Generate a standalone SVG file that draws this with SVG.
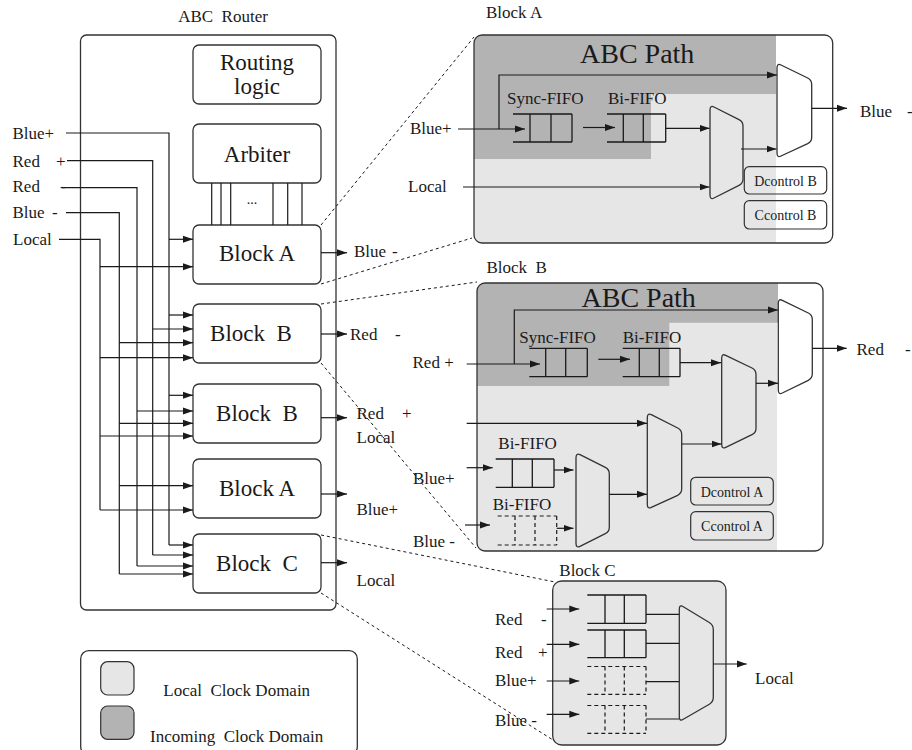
<svg xmlns="http://www.w3.org/2000/svg" width="912" height="750" viewBox="0 0 912 750" font-family="'Liberation Serif', Tinos, 'DejaVu Serif', serif">
  <defs>
    <marker id="ah" markerUnits="userSpaceOnUse" markerWidth="10" markerHeight="8" refX="10" refY="4" orient="auto">
      <path d="M0,0.5 L10,4 L0,7.5 Z" fill="#1a1a1a"/>
    </marker>
    <clipPath id="clipA"><rect x="474" y="35" width="358.7" height="208" rx="8"/></clipPath>
    <clipPath id="clipB"><rect x="477" y="283" width="346" height="268" rx="8"/></clipPath>
    <style>
      text { font-family: 'Liberation Serif', Tinos, 'DejaVu Serif', serif; fill: #1a1a1a; }
      .big { font-size: 23px; }
      .lbl { font-size: 17px; }
      .sm { font-size: 14px; }
      .path { font-size: 28px; }
      .box { fill: #ffffff; stroke: #333333; stroke-width: 1.3; }
      .frame { fill: none; stroke: #333333; stroke-width: 1.3; }
      .ln { fill: none; stroke: #1a1a1a; stroke-width: 1.2; }
      .arr { fill: none; stroke: #1a1a1a; stroke-width: 1.2; marker-end: url(#ah); }
      .fifo { fill: none; stroke: #1a1a1a; stroke-width: 1.3; }
      .dfifo { fill: none; stroke: #1a1a1a; stroke-width: 1.2; stroke-dasharray: 4 3; }
      .zoomln { fill: none; stroke: #1a1a1a; stroke-width: 1; stroke-dasharray: 3 3; }
      .light { fill: #e6e6e6; }
      .dark { fill: #b3b3b3; }
      .muxL { fill: #e6e6e6; stroke: #333333; stroke-width: 1.3; }
      .muxW { fill: #ffffff; stroke: #333333; stroke-width: 1.3; }
      .ctl { fill: none; stroke: #333333; stroke-width: 1.2; }
    </style>
  </defs>

  <!-- ===== Router ===== -->
  <g id="router">
    <text class="lbl" x="223" y="21.5" text-anchor="middle" xml:space="preserve">ABC  Router</text>
    <rect class="box" x="80.5" y="35" width="255.5" height="575" rx="6"/>
  </g>

  <g id="routing-logic">
    <rect class="box" x="193" y="45" width="128" height="59" rx="6"/>
    <text class="big" x="257" y="70" text-anchor="middle">Routing</text>
    <text class="big" x="257" y="93.5" text-anchor="middle">logic</text>
  </g>

  <g id="arbiter">
    <rect class="box" x="193" y="124" width="128" height="59" rx="6"/>
    <text class="big" x="257" y="161.5" text-anchor="middle">Arbiter</text>
  </g>

  <g id="router-block-a1">
    <rect class="box" x="193" y="225" width="128" height="59" rx="6"/>
    <text class="big" x="257" y="261" text-anchor="middle">Block A</text>
  </g>
  <g id="router-block-b1">
    <rect class="box" x="193" y="304" width="128" height="59" rx="6"/>
    <text class="big" x="251" y="341" text-anchor="middle" xml:space="preserve">Block  B</text>
  </g>
  <g id="router-block-b2">
    <rect class="box" x="193" y="384" width="128" height="59" rx="6"/>
    <text class="big" x="257" y="421" text-anchor="middle" xml:space="preserve">Block  B</text>
  </g>
  <g id="router-block-a2">
    <rect class="box" x="193" y="459" width="128" height="59" rx="6"/>
    <text class="big" x="257" y="496" text-anchor="middle">Block A</text>
  </g>
  <g id="router-block-c">
    <rect class="box" x="193" y="534" width="128" height="59" rx="6"/>
    <text class="big" x="257" y="571" text-anchor="middle" xml:space="preserve">Block  C</text>
  </g>

  <!-- router input port labels -->
  <g id="router-inputs">
    <text class="lbl" x="12.5" y="139">Blue+</text>
    <text class="lbl" x="12.5" y="166.5">Red <tspan x="56">+</tspan></text>
    <text class="lbl" x="12.5" y="192">Red <tspan x="60">-</tspan></text>
    <text class="lbl" x="12.5" y="218">Blue <tspan x="52">-</tspan></text>
    <text class="lbl" x="13" y="245">Local</text>
  </g>

  <!-- router output port labels -->
  <g id="router-outputs">
    <text class="lbl" x="354" y="257">Blue <tspan x="392">-</tspan></text>
    <text class="lbl" x="350" y="340">Red <tspan x="395">-</tspan></text>
    <text class="lbl" x="356.5" y="419">Red <tspan x="402">+</tspan></text>
    <text class="lbl" x="356.5" y="443">Local</text>
    <text class="lbl" x="356.5" y="514.5">Blue+</text>
    <text class="lbl" x="356.5" y="586">Local</text>
  </g>

  <!-- ===== Block A detail ===== -->
  <g id="block-a-detail">
    <text class="lbl" x="486" y="18">Block A</text>
    <g clip-path="url(#clipA)">
      <rect class="light" x="474" y="35" width="302" height="208"/>
      <polygon class="dark" points="474,35 776,35 776,94 651,94 651,159 474,159"/>
    </g>
    <rect class="frame" x="474" y="35" width="358.7" height="208" rx="8"/>
    <text class="path" x="580" y="63">ABC Path</text>
    <text class="lbl" x="410" y="134">Blue+</text>
    <text class="lbl" x="408" y="191.5">Local</text>
    <text class="lbl" x="507" y="103.5">Sync-FIFO</text>
    <text class="lbl" x="608" y="103.5">Bi-FIFO</text>
    <!-- sync fifo -->
    <path class="fifo" d="M513,114 H572 M513,142 H572 M530,114 V142 M551,114 V142 M572,114 V142"/>
    <!-- bi fifo -->
    <path class="fifo" d="M607,114 H665.7 M607,142 H665.7 M623.3,114 V142 M643.3,114 V142 M665.7,114 V142"/>
    <path class="muxL" d="M710,110 Q710,105 714,107 L739,119.7 Q743,121.7 743,126 L743,179 Q743,183.3 739,185.3 L714,198 Q710,200 710,195 Z"/>
    <path class="muxW" d="M777,68 Q777,63 781,65 L807.7,78 Q811.7,80 811.7,84.5 L811.7,137.2 Q811.7,141.7 807.7,143.7 L781,156 Q777,158 777,153 Z"/>
    <path class="arr" d="M458,129 H525"/>
    <path class="arr" d="M499,129 V75 H777"/>
    <path class="arr" d="M583,127.5 H615"/>
    <path class="arr" d="M665.7,128.3 H709.5"/>
    <path class="arr" d="M463,187 H709.5"/>
    <path class="arr" d="M741,149 H776.5"/>
    <path class="arr" d="M812,108.3 H847"/>
    <text class="lbl" x="860" y="116.5">Blue <tspan x="907">-</tspan></text>
    <rect class="ctl" x="744.3" y="166.7" width="82.4" height="27.3" rx="5"/>
    <text class="sm" x="785.5" y="186" text-anchor="middle">Dcontrol B</text>
    <rect class="ctl" x="744.3" y="200.7" width="82.4" height="28.3" rx="5"/>
    <text class="sm" x="785.5" y="220" text-anchor="middle">Ccontrol B</text>
  </g>

  <!-- ===== Block B detail ===== -->
  <g id="block-b-detail">
    <text class="lbl" x="486.5" y="272.5" xml:space="preserve">Block  B</text>
    <g clip-path="url(#clipB)">
      <rect class="light" x="477" y="283" width="300" height="268"/>
      <polygon class="dark" points="477,283 778,283 778,322.7 669.3,322.7 669.3,386 477,386"/>
    </g>
    <rect class="frame" x="477" y="283" width="346" height="268" rx="8"/>
    <text class="path" x="581.5" y="306.5">ABC Path</text>
    <text class="lbl" x="412.5" y="367.5">Red +</text>
    <text class="lbl" x="413" y="484">Blue+</text>
    <text class="lbl" x="413" y="547">Blue -</text>
    <text class="lbl" x="519.3" y="342.7">Sync-FIFO</text>
    <text class="lbl" x="622.7" y="342.7">Bi-FIFO</text>
    <text class="lbl" x="498.3" y="449">Bi-FIFO</text>
    <text class="lbl" x="492.7" y="510">Bi-FIFO</text>
    <path class="fifo" d="M529.3,348.3 H587.3 M529.3,376.7 H587.3 M545.7,348.3 V376.7 M565.7,348.3 V376.7 M587.3,348.3 V376.7"/>
    <path class="fifo" d="M622.7,348.3 H680 M622.7,376.7 H680 M639.3,348.3 V376.7 M659.3,348.3 V376.7 M680,348.3 V376.7"/>
    <path class="fifo" d="M495.7,459 H554 M495.7,487.3 H554 M512.3,459 V487.3 M532.3,459 V487.3 M554,459 V487.3"/>
    <path class="dfifo" d="M497.7,516 H556.7 M497.7,545 H556.7 M515,516 V545 M535,516 V545 M556.7,516 V545"/>
    <path class="muxL" d="M721.7,358.3 Q721.7,353.3 725.7,355.3 L752,368 Q756,370 756,374.5 L756,428.2 Q756,432.7 752,434.7 L725.7,447.3 Q721.7,449.3 721.7,444.3 Z"/>
    <path class="muxW" d="M778.3,303.3 Q778.3,298.3 782.3,300.3 L808.3,313 Q812.3,315 812.3,319.5 L812.3,373.8 Q812.3,378.3 808.3,380.3 L782.3,393 Q778.3,395 778.3,390 Z"/>
    <path class="muxL" d="M647.3,417.7 Q647.3,412.7 651.3,414.7 L677.7,428 Q681.7,430 681.7,434.5 L681.7,488.8 Q681.7,493.3 677.7,495.3 L651.3,507.3 Q647.3,509.3 647.3,504.3 Z"/>
    <path class="muxL" d="M576,457.7 Q576,452.7 580,454.7 L605.3,467.3 Q609.3,469.3 609.3,473.8 L609.3,527.2 Q609.3,531.7 605.3,533.7 L580,546.3 Q576,548.3 576,543.3 Z"/>
    <path class="arr" d="M466.7,364 H540"/>
    <path class="arr" d="M514.3,364 V310 H778"/>
    <path class="arr" d="M598.3,359.3 H630"/>
    <path class="arr" d="M680,362.7 H721"/>
    <path class="arr" d="M756,383.3 H778"/>
    <path class="arr" d="M812.3,348.3 H846.7"/>
    <path class="arr" d="M466.7,423.3 H647"/>
    <path class="arr" d="M681.7,444 H721.5"/>
    <path class="arr" d="M609.3,494.3 H647"/>
    <path class="arr" d="M466.7,467.7 H492.7"/>
    <path class="arr" d="M554,470 H573.5"/>
    <path class="arr" d="M465,525 H490"/>
    <path class="arr" d="M556.7,528.3 H573.5"/>
    <text class="lbl" x="856.5" y="355">Red <tspan x="905">-</tspan></text>
    <rect class="ctl" x="690.7" y="477.3" width="82.6" height="27.7" rx="5"/>
    <text class="sm" x="732" y="496.5" text-anchor="middle">Dcontrol A</text>
    <rect class="ctl" x="690.7" y="511.7" width="82.6" height="28.3" rx="5"/>
    <text class="sm" x="732" y="531" text-anchor="middle">Ccontrol A</text>
  </g>

  <!-- ===== Block C detail ===== -->
  <g id="block-c-detail">
    <text class="lbl" x="559.3" y="575.5">Block C</text>
    <rect x="552.7" y="581" width="173.3" height="164" rx="9" fill="#e6e6e6" stroke="#333333" stroke-width="1.3"/>
    <path class="fifo" d="M587.3,595 H646 M587.3,623.3 H646 M605,595 V623.3 M624.3,595 V623.3 M646,595 V623.3"/>
    <path class="fifo" d="M587.3,630 H646 M587.3,657.7 H646 M605,630 V657.7 M624.3,630 V657.7 M646,630 V657.7"/>
    <path class="dfifo" d="M587.3,666.5 H646 M587.3,694.3 H646 M605,666.5 V694.3 M624.3,666.5 V694.3 M646,666.5 V694.3"/>
    <path class="dfifo" d="M587.3,705.5 H646 M587.3,733.3 H646 M605,705.5 V733.3 M624.3,705.5 V733.3 M646,705.5 V733.3"/>
    <path class="ln" d="M646,614.3 H679.3 M646,643.3 H679.3 M646,681.7 H679.3 M646,719 H679.3"/>
    <path class="muxL" d="M679.3,609.3 Q679.3,604.3 683.3,606.8 L709.3,622.5 Q713.3,625 713.3,629.5 L713.3,697.2 Q713.3,701.7 709.3,704.2 L683.3,719.2 Q679.3,721.7 679.3,716.7 Z"/>
    <path class="arr" d="M546.7,609 H579.3"/>
    <path class="arr" d="M546.7,644.3 H579.3"/>
    <path class="arr" d="M546.7,681 H579.3"/>
    <path class="arr" d="M546.7,714.3 H579.3"/>
    <path class="arr" d="M713.3,664 H746.7"/>
    <text class="lbl" x="495" y="625">Red <tspan x="541">-</tspan></text>
    <text class="lbl" x="495" y="658">Red <tspan x="538">+</tspan></text>
    <text class="lbl" x="495" y="685.5">Blue+</text>
    <text class="lbl" x="495" y="726">Blue -</text>
    <text class="lbl" x="755" y="684">Local</text>
  </g>

  <!-- ===== Legend ===== -->
  <g id="legend">
    <rect class="box" x="80.7" y="650.7" width="276.6" height="104" rx="8"/>
    <rect class="light" x="100.7" y="661.7" width="33.3" height="33.3" rx="7" stroke="#333333" stroke-width="1.2"/>
    <rect class="dark" x="100.7" y="706" width="33.3" height="33.3" rx="7" stroke="#333333" stroke-width="1.2"/>
    <text class="lbl" x="163.3" y="696" xml:space="preserve">Local  Clock Domain</text>
    <text class="lbl" x="150" y="741.5" xml:space="preserve">Incoming  Clock Domain</text>
  </g>

  <!-- ===== Connectors ===== -->
  <g id="connectors">
    <!-- arbiter to Block A control lines -->
    <path class="ln" d="M211.7,183 V225 M221,183 V225 M230.7,183 V225 M273,183 V225 M287.7,183 V225 M302,183 V225"/>
    <text class="sm" x="252" y="204" text-anchor="middle">...</text>

    <!-- input port buses -->
    <path class="ln" d="M66,133 H169 V545"/>
    <path class="ln" d="M67,160.7 H152.7 V555"/>
    <path class="ln" d="M62,187.7 H137 V566"/>
    <path class="ln" d="M66,212.7 H119.3 V574"/>
    <path class="ln" d="M59,239.3 H100 V510"/>

    <!-- taps into router blocks -->
    <path class="arr" d="M169,239.3 H193"/>
    <path class="arr" d="M100,266.7 H193"/>

    <path class="arr" d="M169,315 H193"/>
    <path class="arr" d="M152.7,329 H193"/>
    <path class="arr" d="M119.3,342.7 H193"/>
    <path class="arr" d="M100,357.7 H193"/>

    <path class="arr" d="M169,395.3 H193"/>
    <path class="arr" d="M137,411 H193"/>
    <path class="arr" d="M119.3,423.3 H193"/>
    <path class="arr" d="M100,436 H193"/>

    <path class="arr" d="M119.3,485.7 H193"/>
    <path class="arr" d="M100,510 H193"/>

    <path class="arr" d="M169,545 H193"/>
    <path class="arr" d="M152.7,555 H193"/>
    <path class="arr" d="M137,566 H193"/>
    <path class="arr" d="M119.3,574 H193"/>

    <!-- router block outputs -->
    <path class="arr" d="M321,252.7 H347"/>
    <path class="arr" d="M321,334 H347"/>
    <path class="arr" d="M321,417.7 H347"/>
    <path class="arr" d="M321,494 H347"/>
    <path class="arr" d="M321,562.7 H347"/>

    <!-- zoom guides to detail views -->
    <path class="zoomln" d="M321,225 L474,37"/>
    <path class="zoomln" d="M321,284 L472,238"/>
    <path class="zoomln" d="M321,304 L477,282"/>
    <path class="zoomln" d="M321,363 L476,548"/>
    <path class="zoomln" d="M321,535 L555,582"/>
    <path class="zoomln" d="M321,593 L553,740"/>
  </g>
</svg>
